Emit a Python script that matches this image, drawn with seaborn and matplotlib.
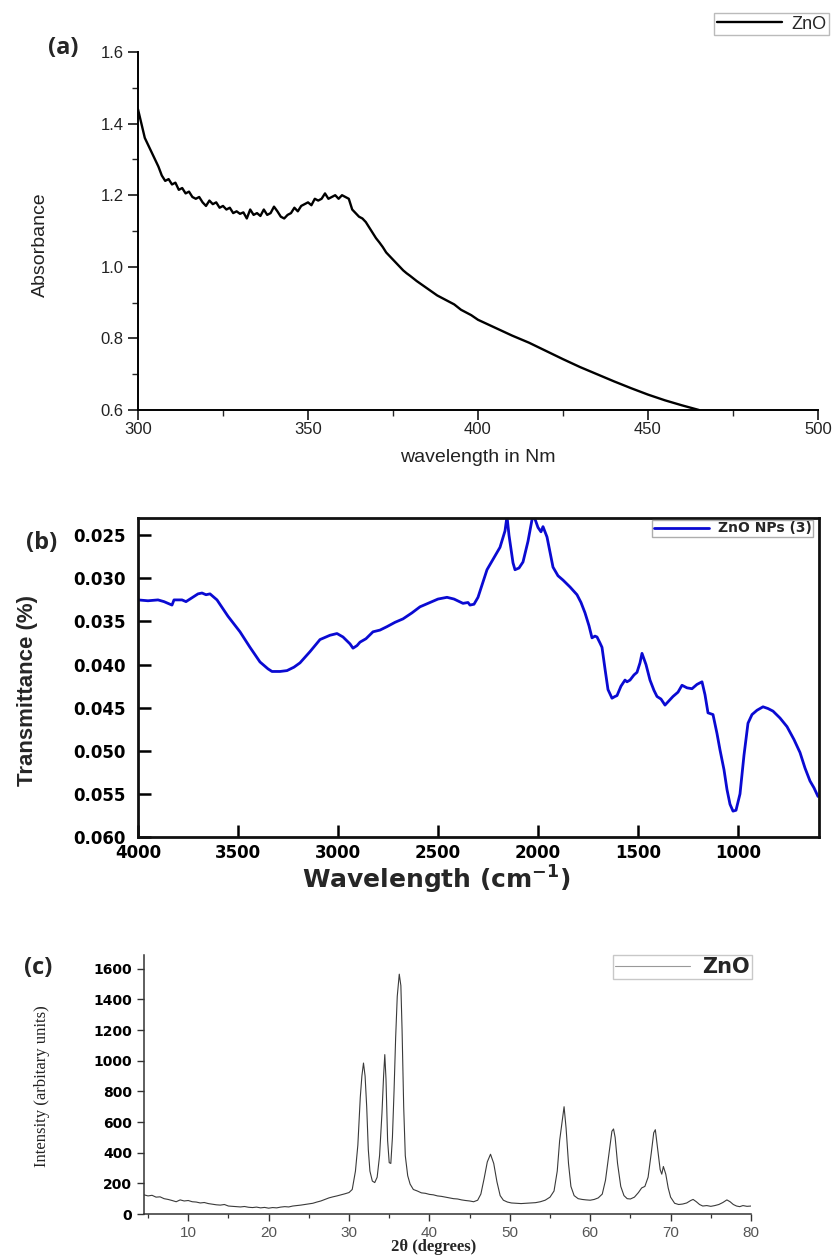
import numpy as np
import pandas as pd
import matplotlib
matplotlib.use("Agg")
import matplotlib.pyplot as plt
import seaborn as sns
from matplotlib import font_manager as fm
from matplotlib.ticker import MultipleLocator, FormatStrFormatter, FixedLocator

# ---------------- data ----------------
# (a) UV-Vis absorbance
A_WL = [300, 301, 302, 303, 304, 305, 306, 307, 308, 309, 310, 311, 312, 313, 314, 315,
        316, 317, 318, 319, 320, 321, 322, 323, 324, 325, 326, 327, 328, 329, 330, 331,
        332, 333, 334, 335, 336, 337, 338, 339, 340, 341, 342, 343, 344, 345, 346, 347,
        348, 349, 350, 351, 352, 353, 354, 355, 356, 357, 358, 359, 360, 361, 362, 363,
        364, 365, 366, 367, 368, 369, 370, 371, 372, 373, 374, 375, 376, 377, 378, 379,
        380, 382, 385, 388, 390, 393, 395, 398, 400, 405, 410, 415, 420, 425, 430, 435,
        440, 445, 450, 455, 460, 465]
A_ABS = [1.44, 1.40, 1.36, 1.34, 1.32, 1.30, 1.28, 1.255, 1.24, 1.245, 1.23, 1.235, 1.215, 1.22, 1.205, 1.21,
         1.195, 1.19, 1.195, 1.18, 1.17, 1.185, 1.175, 1.18, 1.165, 1.17, 1.16, 1.165, 1.15, 1.155, 1.148, 1.152,
         1.135, 1.16, 1.145, 1.15, 1.142, 1.16, 1.145, 1.15, 1.168, 1.155, 1.14, 1.135, 1.145, 1.15, 1.165, 1.155,
         1.17, 1.175, 1.18, 1.172, 1.19, 1.185, 1.19, 1.205, 1.19, 1.195, 1.2, 1.19, 1.2, 1.195, 1.19, 1.16,
         1.15, 1.14, 1.135, 1.125, 1.11, 1.095, 1.08, 1.068, 1.055, 1.04, 1.03, 1.02, 1.01, 1.0, 0.99, 0.982,
         0.975, 0.96, 0.94, 0.92, 0.91, 0.895, 0.88, 0.865, 0.852, 0.83, 0.808, 0.788, 0.765, 0.742, 0.72, 0.70,
         0.68, 0.661, 0.643, 0.627, 0.613, 0.60]

# (b) FTIR transmittance
B_WN = [4000, 3950, 3900, 3870, 3830, 3820, 3780, 3760, 3740, 3700, 3680, 3660, 3640, 3605, 3550, 3490,
        3440, 3390, 3350, 3330, 3290, 3255, 3220, 3190, 3140, 3090, 3040, 3005, 2975, 2940, 2925, 2905,
        2890, 2860, 2825, 2790, 2755, 2715, 2675, 2630, 2590, 2540, 2500, 2455, 2420, 2375, 2350, 2340,
        2320, 2300, 2255, 2220, 2190, 2165, 2155, 2145, 2125, 2115, 2095, 2075, 2050, 2030, 2020, 2000,
        1985, 1975, 1955, 1925, 1900, 1875, 1840, 1805, 1785, 1765, 1745, 1730, 1715, 1705, 1690, 1680,
        1665, 1650, 1630, 1615, 1605, 1585, 1565, 1555, 1540, 1520, 1505, 1490, 1480, 1460, 1440, 1420,
        1405, 1385, 1365, 1345, 1325, 1300, 1280, 1255, 1230, 1205, 1180, 1165, 1150, 1125, 1105, 1090,
        1070, 1055, 1040, 1025, 1010, 990, 970, 950, 930, 905, 875, 850, 825, 790, 755, 720,
        690, 665, 640, 620, 600]
B_T = [0.0325, 0.0326, 0.0325, 0.0327, 0.0331, 0.0325, 0.0325, 0.0327, 0.0324, 0.0318, 0.0317, 0.0319, 0.0318, 0.0325, 0.0344, 0.0362,
       0.0380, 0.0397, 0.0405, 0.0408, 0.0408, 0.0407, 0.0403, 0.0398, 0.0385, 0.0371, 0.0366, 0.0364, 0.0368, 0.0376, 0.0381, 0.0378,
       0.0374, 0.0370, 0.0362, 0.0360, 0.0356, 0.0351, 0.0347, 0.0340, 0.0333, 0.0328, 0.0324, 0.0322, 0.0324, 0.0329, 0.0328, 0.0331,
       0.0330, 0.0322, 0.0290, 0.0276, 0.0264, 0.0245, 0.0228, 0.0250, 0.0282, 0.0290, 0.0288, 0.0281, 0.0257, 0.0232, 0.0228, 0.0241,
       0.0246, 0.0240, 0.0252, 0.0287, 0.0297, 0.0302, 0.0310, 0.0319, 0.0328, 0.0340, 0.0355, 0.0369, 0.0367, 0.0368, 0.0375, 0.0380,
       0.0405, 0.0429, 0.0439, 0.0437, 0.0436, 0.0425, 0.0418, 0.0420, 0.0418, 0.0412, 0.0409, 0.0398, 0.0387, 0.0400, 0.0418, 0.0430,
       0.0437, 0.0440, 0.0447, 0.0442, 0.0437, 0.0432, 0.0424, 0.0427, 0.0428, 0.0423, 0.0420, 0.0435, 0.0456, 0.0458, 0.0480, 0.0499,
       0.0522, 0.0545, 0.0562, 0.0570, 0.0569, 0.0550, 0.0505, 0.0468, 0.0458, 0.0453, 0.0449, 0.0451, 0.0454, 0.0462, 0.0472, 0.0487,
       0.0502, 0.0520, 0.0535, 0.0543, 0.0553]

# (c) XRD pattern
C_2T = [4.5, 5.0, 5.5, 6.0, 6.5, 7.0, 7.5, 8.0, 8.5, 9.0, 9.5, 10.0, 10.5, 11.0, 11.5, 12.0,
        12.5, 13.0, 13.5, 14.0, 14.5, 15.0, 15.5, 16.0, 16.5, 17.0, 17.5, 18.0, 18.5, 19.0, 19.5, 20.0,
        20.5, 21.0, 21.5, 22.0, 22.5, 23.0, 23.5, 24.0, 24.5, 25.0, 25.5, 26.0, 26.5, 27.0, 27.5, 28.0,
        28.5, 29.0, 29.5, 30.0, 30.4, 30.8, 31.1, 31.4, 31.6, 31.8, 32.0, 32.2, 32.4, 32.6, 32.9, 33.2,
        33.5, 33.8, 34.1, 34.3, 34.45, 34.6, 34.8, 35.0, 35.2, 35.4, 35.6, 35.8, 36.0, 36.25, 36.45, 36.6,
        36.8, 37.0, 37.3, 37.6, 38.0, 38.5, 39.0, 39.5, 40.0, 40.5, 41.0, 41.5, 42.0, 42.5, 43.0, 43.5,
        44.0, 44.5, 45.0, 45.5, 46.0, 46.4, 46.8, 47.2, 47.6, 48.0, 48.4, 48.8, 49.2, 49.7, 50.2, 50.8,
        51.4, 52.0, 52.6, 53.2, 53.8, 54.4, 55.0, 55.5, 55.9, 56.2, 56.5, 56.75, 57.0, 57.3, 57.6, 58.0,
        58.5, 59.0, 59.5, 60.0, 60.5, 61.0, 61.5, 61.9, 62.3, 62.7, 62.9, 63.1, 63.4, 63.8, 64.2, 64.6,
        65.0, 65.5, 66.0, 66.4, 66.8, 67.2, 67.6, 67.9, 68.1, 68.4, 68.7, 68.9, 69.1, 69.4, 69.7, 70.0,
        70.5, 71.0, 71.5, 72.0, 72.5, 72.8, 73.2, 73.6, 74.0, 74.5, 75.0, 75.5, 76.0, 76.5, 77.0, 77.4,
        77.8, 78.2, 78.6, 79.0, 79.5, 80.0]
C_I = [125, 118, 122, 110, 112, 100, 95, 88, 80, 92, 85, 88, 80, 78, 72, 75,
       68, 64, 60, 58, 62, 52, 50, 48, 46, 49, 44, 42, 45, 40, 43, 38,
       42, 40, 45, 48, 46, 52, 55, 58, 62, 66, 70, 78, 85, 95, 105, 112,
       118, 125, 132, 140, 160, 280, 450, 760, 900, 985, 900, 700, 420, 280, 215, 205,
       240, 380, 660, 900, 1040, 880, 480, 335, 330, 500, 800, 1150, 1420, 1565, 1490, 1200,
       700, 380, 250, 195, 160, 150, 138, 135, 128, 125, 118, 115, 110, 105, 100, 98,
       92, 88, 85, 80, 90, 130, 230, 340, 390, 330, 210, 120, 90, 78, 72, 70,
       68, 70, 72, 74, 80, 90, 110, 150, 280, 480, 600, 700, 560, 330, 180, 120,
       100, 95, 92, 90, 95, 105, 130, 220, 380, 540, 555, 500, 330, 180, 120, 100,
       98, 110, 140, 170, 180, 240, 400, 530, 550, 420, 290, 260, 310, 260, 170, 110,
       70, 62, 65, 72, 88, 95, 80, 62, 52, 55, 50, 55, 62, 75, 92, 80,
       62, 52, 48, 55, 50, 52]

A_XTICKS = [300, 350, 400, 450, 500]
A_YTICKS = [0.6, 0.8, 1.0, 1.2, 1.4, 1.6]
B_XTICKS = [4000, 3500, 3000, 2500, 2000, 1500, 1000]
B_YTICKS = [0.025, 0.030, 0.035, 0.040, 0.045, 0.050, 0.055, 0.060]
C_XTICKS = [10, 20, 30, 40, 50, 60, 70, 80]
C_YTICKS = [0, 200, 400, 600, 800, 1000, 1200, 1400, 1600]

dfa = pd.DataFrame({"wl": A_WL, "abs": A_ABS})
dfb = pd.DataFrame({"wn": B_WN, "t": B_T})
dfc = pd.DataFrame({"tt": C_2T, "i": C_I})

# ---------------- style ----------------
sns.set_theme(style="ticks")
plt.rcParams["font.family"] = ["Liberation Sans", "DejaVu Sans"]
plt.rcParams["axes.linewidth"] = 1.2

names = {f.name for f in fm.fontManager.ttflist}
NARROW = "Liberation Sans Narrow" if "Liberation Sans Narrow" in names else "Liberation Sans"
WIDE = "DejaVu Sans"
SERIF = ["Liberation Serif", "DejaVu Serif"]

W, H = 839, 1256
fig = plt.figure(figsize=(W / 100, H / 100), dpi=100)
fig.patch.set_facecolor("white")


def fx(px):
    return px / W


def fy(py):
    return 1 - py / H


# ---------------- (a) ----------------
axa = fig.add_axes([fx(138), fy(410), fx(818) - fx(138), fy(52) - fy(410)])
sns.lineplot(data=dfa, x="wl", y="abs", ax=axa, color="black", lw=1.7,
             estimator=None, label="ZnO")
axa.set_xlim(300, 500)
axa.set_ylim(0.6, 1.6)
axa.xaxis.set_major_locator(FixedLocator(A_XTICKS))
axa.yaxis.set_major_locator(FixedLocator(A_YTICKS))
axa.xaxis.set_minor_locator(MultipleLocator(25))
axa.yaxis.set_minor_locator(MultipleLocator(0.1))
axa.yaxis.set_major_formatter(FormatStrFormatter("%.1f"))
axa.tick_params(which="major", direction="out", length=7, width=1.1, labelsize=12,
                colors="black", labelcolor="#222222")
axa.tick_params(which="minor", direction="out", length=4, width=1.0)
axa.tick_params(axis="x", pad=2)
for s in ["top", "right"]:
    axa.spines[s].set_visible(False)
for s in ["left", "bottom"]:
    axa.spines[s].set_linewidth(1.4)
    axa.spines[s].set_color("black")
axa.set_xlabel("")
axa.set_ylabel("")
leg = axa.legend(loc="upper right", bbox_to_anchor=(fx(829), fy(13)), bbox_transform=fig.transFigure,
                 borderaxespad=0, frameon=True, fancybox=False, edgecolor="#aaaaaa",
                 fontsize=13, handlelength=3.6, handletextpad=0.5, borderpad=0.15)
leg.get_frame().set_linewidth(1.0)
fig.text(fx(40), fy(245), "Absorbance", rotation=90, ha="center", va="center",
         fontsize=14, family=[NARROW, "DejaVu Sans"], color="#222222")
fig.text(fx(478), fy(457), "wavelength in Nm", ha="center", va="center", fontsize=14,
         color="#222222")
fig.text(fx(48), fy(48), "(a)", ha="left", va="center", fontsize=17, fontweight="bold",
         family=["Open Sans", "DejaVu Sans"])

# ---------------- (b) ----------------
axb = fig.add_axes([fx(138), fy(837), fx(819) - fx(138), fy(518) - fy(837)])
sns.lineplot(data=dfb, x="wn", y="t", ax=axb, color="#0a0ad2", lw=2.0,
             estimator=None, label="ZnO NPs (3)")
axb.set_xlim(4000, 595)
axb.set_ylim(0.060, 0.023)
axb.xaxis.set_major_locator(FixedLocator(B_XTICKS))
axb.yaxis.set_major_locator(FixedLocator(B_YTICKS))
axb.yaxis.set_major_formatter(FormatStrFormatter("%.3f"))
axb.tick_params(which="major", direction="in", length=9, width=1.8, labelsize=12,
                colors="black")
axb.tick_params(axis="y", pad=9)
axb.tick_params(axis="x", pad=5)
for lab in axb.get_xticklabels() + axb.get_yticklabels():
    lab.set_fontweight("bold")
    lab.set_family(WIDE)
for s in axb.spines.values():
    s.set_linewidth(2.0)
    s.set_color("#111111")
axb.set_xlabel("")
axb.set_ylabel("")
leg = axb.legend(loc="upper right", bbox_to_anchor=(fx(813), fy(520)), bbox_transform=fig.transFigure,
                 borderaxespad=0, frameon=True, fancybox=False, edgecolor="#999999",
                 prop={"family": WIDE, "weight": "bold", "size": 10},
                 handlelength=4.0, handletextpad=0.6, borderpad=0.1)
leg.get_frame().set_linewidth(1.0)
fig.text(fx(27), fy(690), "Transmittance (%)", rotation=90, ha="center", va="center",
         fontsize=16, fontweight="bold", family=[NARROW, "DejaVu Sans"])
fig.text(fx(436), fy(880), r"Wavelength (cm$^{\mathbf{-1}}$)", ha="center", va="center",
         fontsize=18, fontweight="bold", family=WIDE)
fig.text(fx(26), fy(543), "(b)", ha="left", va="center", fontsize=17, fontweight="bold",
         family=["Open Sans", "DejaVu Sans"])

# ---------------- (c) ----------------
axc = fig.add_axes([fx(144), fy(1214), fx(751) - fx(144), fy(955) - fy(1214)])
sns.lineplot(data=dfc, x="tt", y="i", ax=axc, color="#3a3a3a", lw=0.8,
             estimator=None, label="ZnO")
axc.set_xlim(4.5, 80)
axc.set_ylim(0, 1690)
axc.xaxis.set_major_locator(FixedLocator(C_XTICKS))
axc.yaxis.set_major_locator(FixedLocator(C_YTICKS))
axc.xaxis.set_minor_locator(MultipleLocator(5))
axc.tick_params(which="major", direction="out", length=5, width=1.0, colors="#333333")
axc.tick_params(which="minor", direction="out", length=3, width=0.9, colors="#333333")
axc.tick_params(axis="y", labelsize=10, labelcolor="black")
axc.tick_params(axis="x", labelsize=11, labelcolor="#555555")
for lab in axc.get_yticklabels():
    lab.set_fontweight("bold")
    lab.set_family(WIDE)
for s in ["top", "right"]:
    axc.spines[s].set_visible(False)
for s in ["left", "bottom"]:
    axc.spines[s].set_linewidth(1.1)
    axc.spines[s].set_color("#333333")
axc.set_xlabel("")
axc.set_ylabel("")
leg = axc.legend(loc="upper right", bbox_to_anchor=(fx(752), fy(955)), bbox_transform=fig.transFigure,
                 borderaxespad=0, frameon=True, fancybox=False, edgecolor="#bbbbbb",
                 prop={"family": WIDE, "weight": "bold", "size": 15},
                 handlelength=3.6, handletextpad=0.6, borderpad=0.1)
leg.get_frame().set_linewidth(1.0)
for line in leg.get_lines():
    line.set_color("#999999")
    line.set_linewidth(0.8)
fig.text(fx(42), fy(1086), "Intensity (arbitary units)", rotation=90, ha="center", va="center",
         fontsize=12, family=SERIF, color="#222222")
fig.text(fx(434), fy(1247), "2θ (degrees)", ha="center", va="center",
         fontsize=12, fontweight="bold", family=SERIF)
fig.text(fx(24), fy(968), "(c)", ha="left", va="center", fontsize=17, fontweight="bold",
         family=["Open Sans", "DejaVu Sans"])

fig.savefig("out.png", dpi=100, facecolor="white")
